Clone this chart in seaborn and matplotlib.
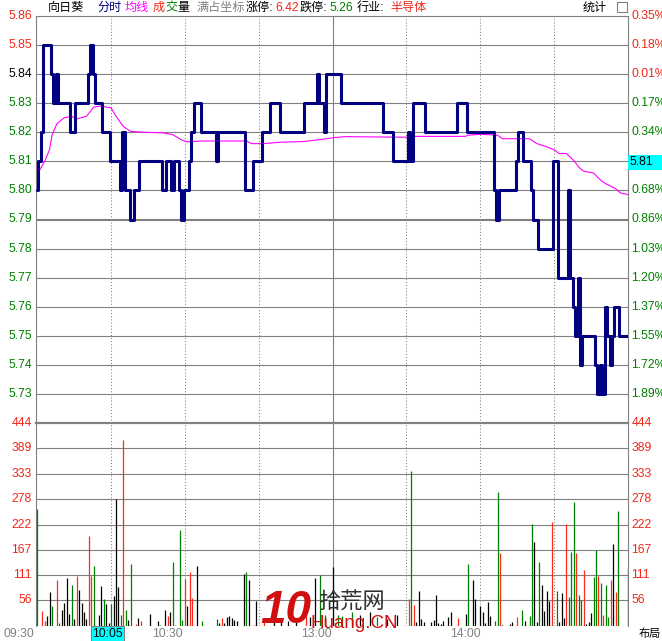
import matplotlib
matplotlib.use('Agg')
import matplotlib.pyplot as plt
import matplotlib.transforms as mtransforms
from matplotlib.patches import Rectangle
import seaborn as sns

# minute index 0..240 (09:30-11:30, 13:01-15:00)
price = [
    5.80, 5.81, 5.82, 5.85, 5.85, 5.85, 5.84, 5.83, 5.84, 5.83,
    5.83, 5.83, 5.83, 5.83, 5.82, 5.82, 5.83, 5.83, 5.83, 5.83,
    5.83, 5.84, 5.85, 5.84, 5.83, 5.83, 5.83, 5.82, 5.82, 5.82,
    5.81, 5.81, 5.81, 5.81, 5.80, 5.82, 5.80, 5.80, 5.79, 5.79,
    5.80, 5.80, 5.81, 5.81, 5.81, 5.81, 5.81, 5.81, 5.81, 5.81,
    5.81, 5.80, 5.80, 5.81, 5.81, 5.80, 5.81, 5.81, 5.80, 5.79,
    5.80, 5.80, 5.81, 5.82, 5.83, 5.83, 5.83, 5.82, 5.82, 5.82,
    5.82, 5.82, 5.82, 5.81, 5.82, 5.82, 5.82, 5.82, 5.82, 5.82,
    5.82, 5.82, 5.82, 5.82, 5.82, 5.80, 5.80, 5.80, 5.81, 5.81,
    5.81, 5.81, 5.82, 5.82, 5.82, 5.83, 5.83, 5.83, 5.83, 5.82,
    5.82, 5.82, 5.82, 5.82, 5.82, 5.82, 5.82, 5.82, 5.82, 5.83,
    5.83, 5.83, 5.83, 5.83, 5.84, 5.83, 5.83, 5.82, 5.84, 5.84,
    5.84, 5.84, 5.84, 5.84, 5.83, 5.83, 5.83, 5.83, 5.83, 5.83,
    5.83, 5.83, 5.83, 5.83, 5.83, 5.83, 5.83, 5.83, 5.83, 5.83,
    5.83, 5.82, 5.82, 5.82, 5.82, 5.81, 5.81, 5.81, 5.81, 5.81,
    5.81, 5.82, 5.81, 5.83, 5.83, 5.83, 5.83, 5.83, 5.82, 5.82,
    5.82, 5.82, 5.82, 5.82, 5.82, 5.82, 5.82, 5.82, 5.82, 5.82,
    5.82, 5.83, 5.83, 5.83, 5.83, 5.82, 5.82, 5.82, 5.82, 5.82,
    5.82, 5.82, 5.82, 5.82, 5.82, 5.82, 5.80, 5.79, 5.80, 5.80,
    5.80, 5.80, 5.80, 5.80, 5.80, 5.81, 5.82, 5.82, 5.81, 5.81,
    5.81, 5.80, 5.79, 5.79, 5.78, 5.78, 5.78, 5.78, 5.78, 5.78,
    5.81, 5.81, 5.77, 5.77, 5.77, 5.77, 5.80, 5.77, 5.76, 5.75,
    5.77, 5.74, 5.75, 5.75, 5.75, 5.75, 5.75, 5.74, 5.73, 5.74,
    5.73, 5.76, 5.75, 5.74, 5.75, 5.76, 5.76, 5.75, 5.75, 5.75,
    5.75,
]

# average price line, read at these minutes
avg_min = [0, 1, 3, 5, 6, 8, 11, 14, 16, 20, 23, 26, 30, 32, 35, 38, 44, 51, 55,
           59, 61, 67, 85, 87, 92, 99, 108, 115, 121, 125, 151, 154, 174, 175, 180,
           187, 189, 200, 203, 207, 210, 212, 215, 218, 220, 222, 226, 229, 231,
           235, 237, 240]
avg_val = [5.806, 5.807, 5.810, 5.814, 5.819, 5.823, 5.825, 5.8255, 5.8246, 5.8255,
           5.8287, 5.829, 5.8284, 5.8255, 5.822, 5.8203, 5.820, 5.8198, 5.8192,
           5.8172, 5.8167, 5.8170, 5.8170, 5.8161, 5.8161, 5.8166, 5.8168, 5.8175,
           5.8182, 5.8185, 5.8183, 5.8186, 5.8186, 5.819, 5.8193, 5.819, 5.8178,
           5.8178, 5.8161, 5.815, 5.814, 5.8127, 5.8127, 5.8103, 5.808, 5.8066,
           5.806, 5.8034, 5.8023, 5.8006, 5.7991, 5.7986]

# volume bars: minute, volume, direction (r up, g down, k flat)
bar_min = [0, 2, 3, 4, 5, 6, 8, 9, 10, 11, 12, 13, 14, 15, 16, 17, 18, 19, 20,
           21, 22, 23, 25, 26, 27, 28, 29, 30, 31, 32, 33, 34, 35, 36, 37, 38,
           40, 41, 42, 46, 49, 50, 52, 53, 54, 55, 56, 58, 59, 60, 61, 62, 63,
           65, 67, 73, 74, 75, 76, 77, 78, 79, 80, 81, 84, 85, 86, 88, 89, 92,
           96, 99, 102, 105, 109, 111, 113, 115, 117, 120, 122, 124, 128, 131, 135,
           138, 142, 146, 151, 152, 153, 154, 155, 156, 157, 160, 161, 162, 163,
           164, 165, 167, 168, 171, 174, 175, 177, 178, 180, 181, 182, 183, 184,
           186, 187, 188, 189, 192, 193, 195, 197, 198, 200, 201, 202, 203, 204,
           205, 206, 207, 208, 209, 211, 212, 213, 214, 215, 216, 217, 218, 219,
           220, 221, 222, 223, 224, 225, 226, 227, 228, 229, 230, 231, 232, 233,
           234, 235, 236, 240]
bar_vol = [255, 33, 12, 22, 74, 44, 100, 6, 36, 51, 105, 26, 90, 15, 110, 79, 51,
           31, 15, 197, 109, 131, 24, 87, 60, 48, 7, 48, 66, 277, 86, 24, 406, 35,
           13, 135, 4, 17, 12, 26, 12, 2, 36, 22, 31, 140, 2, 211, 13, 102, 44,
           118, 61, 131, 12, 16, 7, 17, 6, 19, 22, 17, 13, 12, 114, 118, 100, 2,
           55, 9, 12, 18, 10, 15, 75, 20, 104, 111, 25, 128, 25, 22, 30, 25, 30,
           20, 15, 25, 60, 340, 46, 9, 77, 15, 9, 9, 13, 68, 6, 4, 12, 19, 31,
           17, 26, 135, 100, 58, 44, 31, 7, 52, 22, 12, 293, 159, 3, 4, 9, 19,
           36, 12, 22, 224, 183, 9, 140, 90, 33, 77, 55, 227, 77, 9, 73, 17, 224,
           63, 162, 271, 159, 68, 57, 122, 4, 9, 29, 108, 167, 109, 95, 24, 90,
           20, 100, 179, 75, 251, 127]
bar_dir = ['g', 'r', 'r', 'k', 'k', 'g', 'r', 'g', 'k', 'k', 'k', 'k', 'g', 'k',
           'r', 'k', 'k', 'k', 'k', 'r', 'r', 'g', 'k', 'k', 'g', 'k', 'k', 'g',
           'k', 'k', 'k', 'g', 'r', 'g', 'k', 'g', 'r', 'k', 'r', 'k', 'k', 'g',
           'k', 'r', 'k', 'g', 'r', 'g', 'g', 'r', 'k', 'r', 'r', 'k', 'g', 'g',
           'k', 'r', 'k', 'k', 'k', 'k', 'k', 'k', 'k', 'g', 'k', 'r', 'k', 'r',
           'k', 'k', 'k', 'k', 'r', 'k', 'k', 'g', 'g', 'k', 'g', 'g', 'g', 'k', 'k',
           'g', 'k', 'k', 'r', 'g', 'r', 'k', 'k', 'k', 'k', 'k', 'k', 'k', 'k',
           'k', 'k', 'k', 'k', 'r', 'k', 'g', 'k', 'k', 'k', 'k', 'k', 'k', 'k',
           'g', 'g', 'r', 'k', 'k', 'k', 'r', 'g', 'k', 'g', 'g', 'k', 'k', 'g',
           'k', 'k', 'k', 'k', 'r', 'g', 'k', 'k', 'k', 'r', 'g', 'g', 'g', 'r',
           'g', 'g', 'r', 'k', 'k', 'k', 'g', 'g', 'r', 'g', 'r', 'g', 'g', 'r',
           'k', 'r', 'g', 'k']

price_levels = [5.86, 5.85, 5.84, 5.83, 5.82, 5.81, 5.80, 5.79, 5.78, 5.77, 5.76,
                5.75, 5.74, 5.73]
price_labels = ['5.86', '5.85', '5.84', '5.83', '5.82', '5.81', '5.80', '5.79',
                '5.78', '5.77', '5.76', '5.75', '5.74', '5.73']
pct_labels = ['0.35%', '0.18%', '0.01%', '0.17%', '0.34%', '', '0.68%', '0.86%',
              '1.03%', '1.20%', '1.37%', '1.55%', '1.72%', '1.89%']
vol_levels = [444, 389, 333, 278, 222, 167, 111, 56]
time_ticks = [30, 60, 90, 120, 150, 180, 210]
time_labels = [('09:30', 34), ('10:30', 183), ('13:00', 332), ('14:00', 481)]

RED = '#f02818'
GREEN = '#008000'
GRAY = '#808080'
W, H = 662, 641

sns.set_style('white')
plt.rcParams['font.family'] = ['Liberation Sans', 'Noto Sans CJK SC', 'DejaVu Sans']
FS = 8.7


def fx(px):
    return px / W


def fy(py):
    return 1 - py / H


fig = plt.figure(figsize=(W / 100, H / 100), dpi=100)
ax_p = fig.add_axes([fx(36), fy(423), 592 / W, 407 / H])
ax_v = fig.add_axes([fx(36), fy(626), 592 / W, 203 / H])

for ax in (ax_p, ax_v):
    ax.set_xlim(-0.5, 240)
    ax.set_xticks([])
    ax.set_yticks([])
    for s in ax.spines.values():
        s.set_color(GRAY)
        s.set_linewidth(0.8)
    for m in time_ticks:
        if m == 120:
            ax.axvline(m, color=GRAY, lw=0.8, zorder=1)
        else:
            ax.axvline(m, color=GRAY, lw=0.75, ls=(0, (1, 2)), zorder=1)

ax_p.set_ylim(5.72, 5.86)
ax_p.spines['bottom'].set_visible(False)
ax_v.set_ylim(0, 444)
ax_v.spines['bottom'].set_visible(False)
ax_v.spines['top'].set_linewidth(1.6)

for lv in price_levels[1:]:
    ax_p.axhline(lv, color=GRAY, lw=1.5 if lv == 5.79 else 0.8, zorder=1)
for lv in vol_levels[1:]:
    ax_v.axhline(lv, color=GRAY, lw=0.8, zorder=1)

minutes = list(range(len(price)))
sns.lineplot(x=avg_min, y=avg_val, ax=ax_p, color='#ff00ff', lw=0.8, zorder=3)
sns.lineplot(x=minutes, y=price, ax=ax_p, color='#000080', lw=2.2, zorder=4,
             drawstyle='steps-mid')
ax_p.set_xlabel('')
ax_p.set_ylabel('')
ax_p.set_xlim(-0.5, 240)

cmap = {'r': '#ff2a1a', 'g': '#008000', 'k': '#000000'}
ax_v.vlines(bar_min, 0, bar_vol, colors=[cmap[d] for d in bar_dir], lw=0.9, zorder=3)

# axis labels
tl = mtransforms.blended_transform_factory(ax_p.transAxes, ax_p.transData)
for lv, lab, pct in zip(price_levels, price_labels, pct_labels):
    if lv > 5.845:
        c = RED
    elif lv > 5.835:
        c = 'black'
    else:
        c = GREEN
    ax_p.text(-0.007, lv, lab, transform=tl, ha='right', va='center', color=c, fontsize=FS)
    pc = RED if lv > 5.835 else GREEN
    ax_p.text(1.006, lv, pct, transform=tl, ha='left', va='center', color=pc, fontsize=FS)

tv = mtransforms.blended_transform_factory(ax_v.transAxes, ax_v.transData)
for lv in vol_levels:
    ax_v.text(-0.007, lv, str(lv), transform=tv, ha='right', va='center', color=RED, fontsize=FS)
    ax_v.text(1.006, lv, str(lv), transform=tv, ha='left', va='center', color=RED, fontsize=FS)

# current price box on the right
fig.patches.append(Rectangle((fx(628), fy(170)), 34 / W, 15 / H, transform=fig.transFigure,
                             facecolor='#00ffff', edgecolor='none'))
fig.text(fx(630), fy(162.5), '5.81', ha='left', va='center', fontsize=FS, color='black')

# time axis
for lab, px in time_labels:
    fig.text(fx(px), fy(634), lab, ha='right', va='center', fontsize=FS, color=GRAY)
fig.patches.append(Rectangle((fx(91), fy(641)), 33 / W, 15 / H, transform=fig.transFigure,
                             facecolor='#00ffff', edgecolor=GRAY, lw=0.8))
fig.text(fx(107.5), fy(634), '10:05', ha='center', va='center', fontsize=FS, color='black')
fig.text(fx(639), fy(634), '布局', ha='left', va='center', fontsize=8, color='black')

# header
header = [('向日葵', 48, 'black'), ('分时', 97, '#000080'), ('均线', 125, '#ff00ff'),
          ('成', 153, RED), ('交', 165, GREEN), ('量', 177, 'black'),
          ('满占坐标', 196, GRAY), ('涨停:', 246, 'black'), ('6.42', 275, RED),
          ('跌停:', 300, 'black'), ('5.26', 329, GREEN), ('行业:', 357, 'black'),
          ('半导体', 390, RED), ('统计', 583, 'black')]
for txt, px, c in header:
    fig.text(fx(px), fy(8), txt, ha='left', va='center', fontsize=FS, color=c)
fig.patches.append(Rectangle((fx(617), fy(12)), 10 / W, 10 / H, transform=fig.transFigure,
                             facecolor='white', edgecolor=GRAY, lw=0.8))

# watermark
fig.text(fx(260), fy(611), '10', ha='left', va='center', fontsize=33, fontweight='bold',
         color='#d01010', fontstyle='italic')
fig.text(fx(318), fy(603), '拾荒网', ha='left', va='center', fontsize=16, color='#303030')
fig.text(fx(310), fy(623), 'Huang.CN', ha='left', va='center', fontsize=13.5, color='#d01010')

fig.savefig('out.png', dpi=100, facecolor='white')
